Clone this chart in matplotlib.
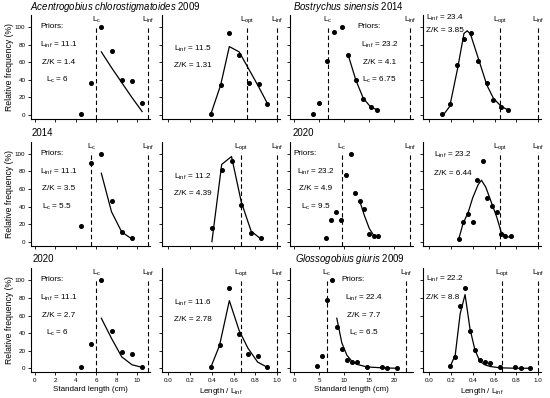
import matplotlib.pyplot as plt

plt.rcParams["font.family"] = ["Liberation Sans", "DejaVu Sans"]
plt.rcParams["mathtext.fontset"] = "custom"
plt.rcParams["mathtext.rm"] = "Liberation Sans"
plt.rcParams["mathtext.it"] = "Liberation Sans:italic"

# --- A. chlorostigmatoides (standard length, cm) ---
ac_len = [4.5, 5.5, 6.5, 7.5, 8.5, 9.5, 10.5]
ac09_freq = [1, 37, 100, 73, 40, 39, 14]
ac09_fit_x = [6.5, 7.5, 8.5, 9.5, 10.5]
ac09_fit_y = [72, 54, 37, 20, 4]
ac14_len = [4.5, 5.5, 6.5, 7.5, 8.5, 9.5]
ac14_freq = [18, 90, 100, 46, 11, 4]
ac14_fit_x = [6.5, 7.5, 8.5, 9.5]
ac14_fit_y = [78, 34, 11, 3]
ac20_freq = [1, 28, 100, 42, 18, 16, 1]
ac20_fit_x = [6.5, 7.5, 8.5, 9.5, 10.5]
ac20_fit_y = [57, 34, 13, 4, 1]

# --- A. chlorostigmatoides (length / Linf) ---
ac09_rel = [0.39, 0.48, 0.56, 0.65, 0.74, 0.83, 0.91]
ac09_rel_freq = [1, 34, 93, 68, 37, 35, 13]
ac09_rel_fit = [1, 34, 78, 72, 52, 32, 13]
ac14_rel = [0.40, 0.49, 0.58, 0.67, 0.76, 0.85]
ac14_rel_freq = [16, 82, 92, 42, 10, 4]
ac14_rel_fit = [0, 88, 97, 45, 12, 3]
ac20_rel = [0.39, 0.47, 0.56, 0.65, 0.73, 0.82, 0.91]
ac20_rel_freq = [1, 26, 91, 39, 16, 14, 1]
ac20_rel_fit = [1, 26, 77, 43, 23, 7, 1]

# --- B. sinensis / G. giuris (standard length, cm) ---
bs14_len = [3.7, 5.0, 6.5, 8.0, 9.5, 10.8, 12.3, 13.8, 15.3, 16.6]
bs14_freq = [1, 14, 62, 95, 100, 68, 40, 18, 9, 6]
bs14_fit_x = [10.8, 12.3, 13.8, 15.3, 16.6]
bs14_fit_y = [68, 40, 19, 9, 6]
bs20_len = [6.3, 7.3, 8.3, 9.3, 10.3, 11.3, 12.1, 13.1, 14.0, 15.0, 15.9, 16.8]
bs20_freq = [4, 25, 34, 25, 76, 100, 55, 46, 37, 9, 6, 6]
bs20_fit_x = [13.1, 14.0, 15.0, 15.9, 16.8]
bs20_fit_y = [46, 30, 15, 7, 5]
gg09_len = [4.5, 5.5, 6.5, 7.5, 8.5, 9.5, 10.5, 11.5, 12.5, 14.5, 17.5, 18.5, 20.5]
gg09_freq = [2, 14, 78, 100, 47, 22, 9, 7, 7, 1, 1, 0.4, 0.4]
gg09_fit_x = [8.5, 9.5, 10.5, 11.5, 12.5, 14.5, 17.5, 18.5, 20.5]
gg09_fit_y = [57, 29, 15, 8, 4.5, 1.5, 0.5, 0.3, 0]

# --- B. sinensis / G. giuris (length / Linf) ---
bs14_rel = [0.12, 0.19, 0.26, 0.32, 0.38, 0.45, 0.53, 0.59, 0.66, 0.72]
bs14_rel_freq = [1, 13, 57, 87, 93, 62, 36, 17, 9, 6]
bs14_rel_fit_x = [0.13, 0.19, 0.26, 0.32, 0.35, 0.38, 0.45, 0.53, 0.59, 0.66, 0.72]
bs14_rel_fit_y = [0, 10, 52, 93, 96, 92, 65, 34, 19, 10, 6]
bs20_rel = [0.27, 0.31, 0.36, 0.40, 0.44, 0.49, 0.53, 0.58, 0.62, 0.66, 0.70, 0.75]
bs20_rel_freq = [3, 22, 31, 22, 70, 92, 50, 41, 34, 9, 6, 6]
bs20_rel_fit_x = [0.27, 0.31, 0.36, 0.40, 0.45, 0.48, 0.52, 0.57, 0.62, 0.66, 0.71, 0.75]
bs20_rel_fit_y = [2, 20, 34, 50, 65, 70, 62, 45, 28, 11, 6, 4.5]
gg09_rel = [0.19, 0.24, 0.285, 0.33, 0.375, 0.42, 0.465, 0.51, 0.56, 0.65, 0.79, 0.84, 0.92]
gg09_rel_freq = [2, 13, 71, 91, 43, 21, 9, 7, 6, 1, 1, 0, 0]
gg09_rel_fit = [1, 15, 62, 84, 45, 21, 8, 4, 2, 0.5, 0, 0, 0]

fig = plt.figure(figsize=(5.5, 3.98), dpi=100)

col_left = [31, 162, 290, 423]
col_right = [150, 280, 413, 541]
row_bottom = [119, 245.6, 372.2]
xlims = [(-0.39, 11.27), (-0.058, 1.025), (-0.86, 23.74), (-0.055, 1.025)]
xticks = [range(0, 11, 2), [0, 0.2, 0.4, 0.6, 0.8, 1.0], range(0, 21, 5), [0, 0.2, 0.4, 0.6, 0.8, 1.0]]
xticklabels = [[str(v) for v in range(0, 11, 2)], ["0.0", "0.2", "0.4", "0.6", "0.8", "1.0"],
               [str(v) for v in range(0, 21, 5)], ["0.0", "0.2", "0.4", "0.6", "0.8", "1.0"]]

axes = []
for r in range(3):
    row = []
    for c in range(4):
        ax = fig.add_axes([col_left[c] / 550, 1 - row_bottom[r] / 398,
                           (col_right[c] - col_left[c]) / 550, 104 / 398])
        ax.set_xlim(xlims[c])
        ax.set_ylim(-4.5, 114)
        for s in ["top", "right"]:
            ax.spines[s].set_visible(False)
        for s in ["left", "bottom"]:
            ax.spines[s].set_linewidth(0.8)
        ax.set_yticks([0, 20, 40, 60, 80, 100])
        ax.set_xticks(list(xticks[c]))
        ax.tick_params(direction="out", length=2.5, width=0.6, labelsize=4.5, pad=1.5)
        if c > 0:
            ax.set_yticklabels([])
        else:
            ax.set_ylabel("Relative frequency (%)", fontsize=6.2, labelpad=1)
        if r < 2:
            ax.set_xticklabels([])
        else:
            ax.set_xticklabels(xticklabels[c])
            if c % 2 == 0:
                ax.set_xlabel("Standard length (cm)", fontsize=5.8, labelpad=2)
            else:
                ax.set_xlabel(r"Length / L$_{\mathrm{inf}}$", fontsize=5.8, labelpad=2)
        row.append(ax)
    axes.append(row)

dot = dict(marker="o", linestyle="none", color="black", markersize=2.6)
fitline = dict(color="black", linewidth=0.9)


def vline(ax, x, label):
    ax.plot([x, x], [-4.5, 102], color="black", linestyle=(0, (4, 2.5)), linewidth=0.8, clip_on=False)
    ax.text(x, 102.5, label, ha="center", va="bottom", fontsize=5.8)


def note(ax, x, y, s, ha="center"):
    ax.text(x, y, s, ha=ha, va="center", fontsize=5.9)


LC = r"L$_{\mathrm{c}}$"
LINF = r"L$_{\mathrm{inf}}$"
LOPT = r"L$_{\mathrm{opt}}$"

# column 1
for r, (lx, fy, fx, fity, lc, zk) in enumerate([
        (ac_len, ac09_freq, ac09_fit_x, ac09_fit_y, 6, "1.4"),
        (ac14_len, ac14_freq, ac14_fit_x, ac14_fit_y, 5.5, "3.5"),
        (ac_len, ac20_freq, ac20_fit_x, ac20_fit_y, 6, "2.7")]):
    ax = axes[r][0]
    ax.plot(lx, fy, **dot)
    ax.plot(fx, fity, **fitline)
    vline(ax, lc, LC)
    vline(ax, 11.1, LINF)
    note(ax, 0.5, 101, "Priors:", ha="left")
    note(ax, 2.3, 80, LINF + " = 11.1")
    note(ax, 2.3, 60, "Z/K = " + zk)
    note(ax, 2.2, 40, LC + " = " + str(lc))

# column 2
for r, (lx, fy, fity, lopt, linf, zk, ty) in enumerate([
        (ac09_rel, ac09_rel_freq, ac09_rel_fit, 0.72, "11.5", "1.31", 75),
        (ac14_rel, ac14_rel_freq, ac14_rel_fit, 0.67, "11.2", "4.39", 74),
        (ac20_rel, ac20_rel_freq, ac20_rel_fit, 0.67, "11.6", "2.78", 74)]):
    ax = axes[r][1]
    ax.plot(lx, fy, **dot)
    ax.plot(lx, fity, **fitline)
    vline(ax, lopt, LOPT)
    vline(ax, 1.0, LINF)
    note(ax, 0.05, ty, LINF + " = " + linf, ha="left")
    note(ax, 0.05, ty - 19, "Z/K = " + zk, ha="left")

# column 3
for r, (lx, fy, fx, fity, lc, linf, zk, tx) in enumerate([
        (bs14_len, bs14_freq, bs14_fit_x, bs14_fit_y, "6.75", 23.2, "4.1", 17.0),
        (bs20_len, bs20_freq, bs20_fit_x, bs20_fit_y, "9.5", 23.2, "4.9", 4.3),
        (gg09_len, gg09_freq, gg09_fit_x, gg09_fit_y, "6.5", 22.4, "7.7", 13.9)]):
    ax = axes[r][2]
    ax.plot(lx, fy, **dot)
    ax.plot(fx, fity, **fitline)
    vline(ax, float(lc), LC)
    vline(ax, linf, LINF)
    note(ax, tx - 4.4, 101, "Priors:", ha="left")
    note(ax, tx, 80, LINF + " = " + str(linf))
    note(ax, tx, 60, "Z/K = " + zk)
    note(ax, tx, 40, LC + " = " + lc)

# column 4
for r, (lx, fy, fx, fity, lopt, linf, zk, tx, ty) in enumerate([
        (bs14_rel, bs14_rel_freq, bs14_rel_fit_x, bs14_rel_fit_y, 0.65, "23.4", "3.85", -0.03, 111),
        (bs20_rel, bs20_rel_freq, bs20_rel_fit_x, bs20_rel_fit_y, 0.65, "23.2", "6.44", 0.05, 99),
        (gg09_rel, gg09_rel_freq, gg09_rel, gg09_rel_fit, 0.67, "22.2", "8.8", -0.03, 102)]):
    ax = axes[r][3]
    ax.plot(lx, fy, **dot)
    ax.plot(fx, fity, **fitline)
    vline(ax, lopt, LOPT)
    vline(ax, 1.0, LINF)
    gap = 15 if r == 0 else 21
    note(ax, tx, ty, LINF + " = " + linf, ha="left")
    note(ax, tx, ty - gap, "Z/K = " + zk, ha="left")

title_kw = dict(fontsize=6.9, ha="left", va="center")
fig.text(30 / 550, 1 - 7 / 398, r"$\mathit{Acentrogobius\ chlorostigmatoides}$ 2009", **title_kw)
fig.text(293 / 550, 1 - 7 / 398, r"$\mathit{Bostrychus\ sinensis}$ 2014", **title_kw)
fig.text(32 / 550, 1 - 133 / 398, "2014", **title_kw)
fig.text(293 / 550, 1 - 133 / 398, "2020", **title_kw)
fig.text(33 / 550, 1 - 259 / 398, "2020", **title_kw)
fig.text(295 / 550, 1 - 259 / 398, r"$\mathit{Glossogobius\ giuris}$ 2009", **title_kw)

fig.savefig("out.png", dpi=100)
